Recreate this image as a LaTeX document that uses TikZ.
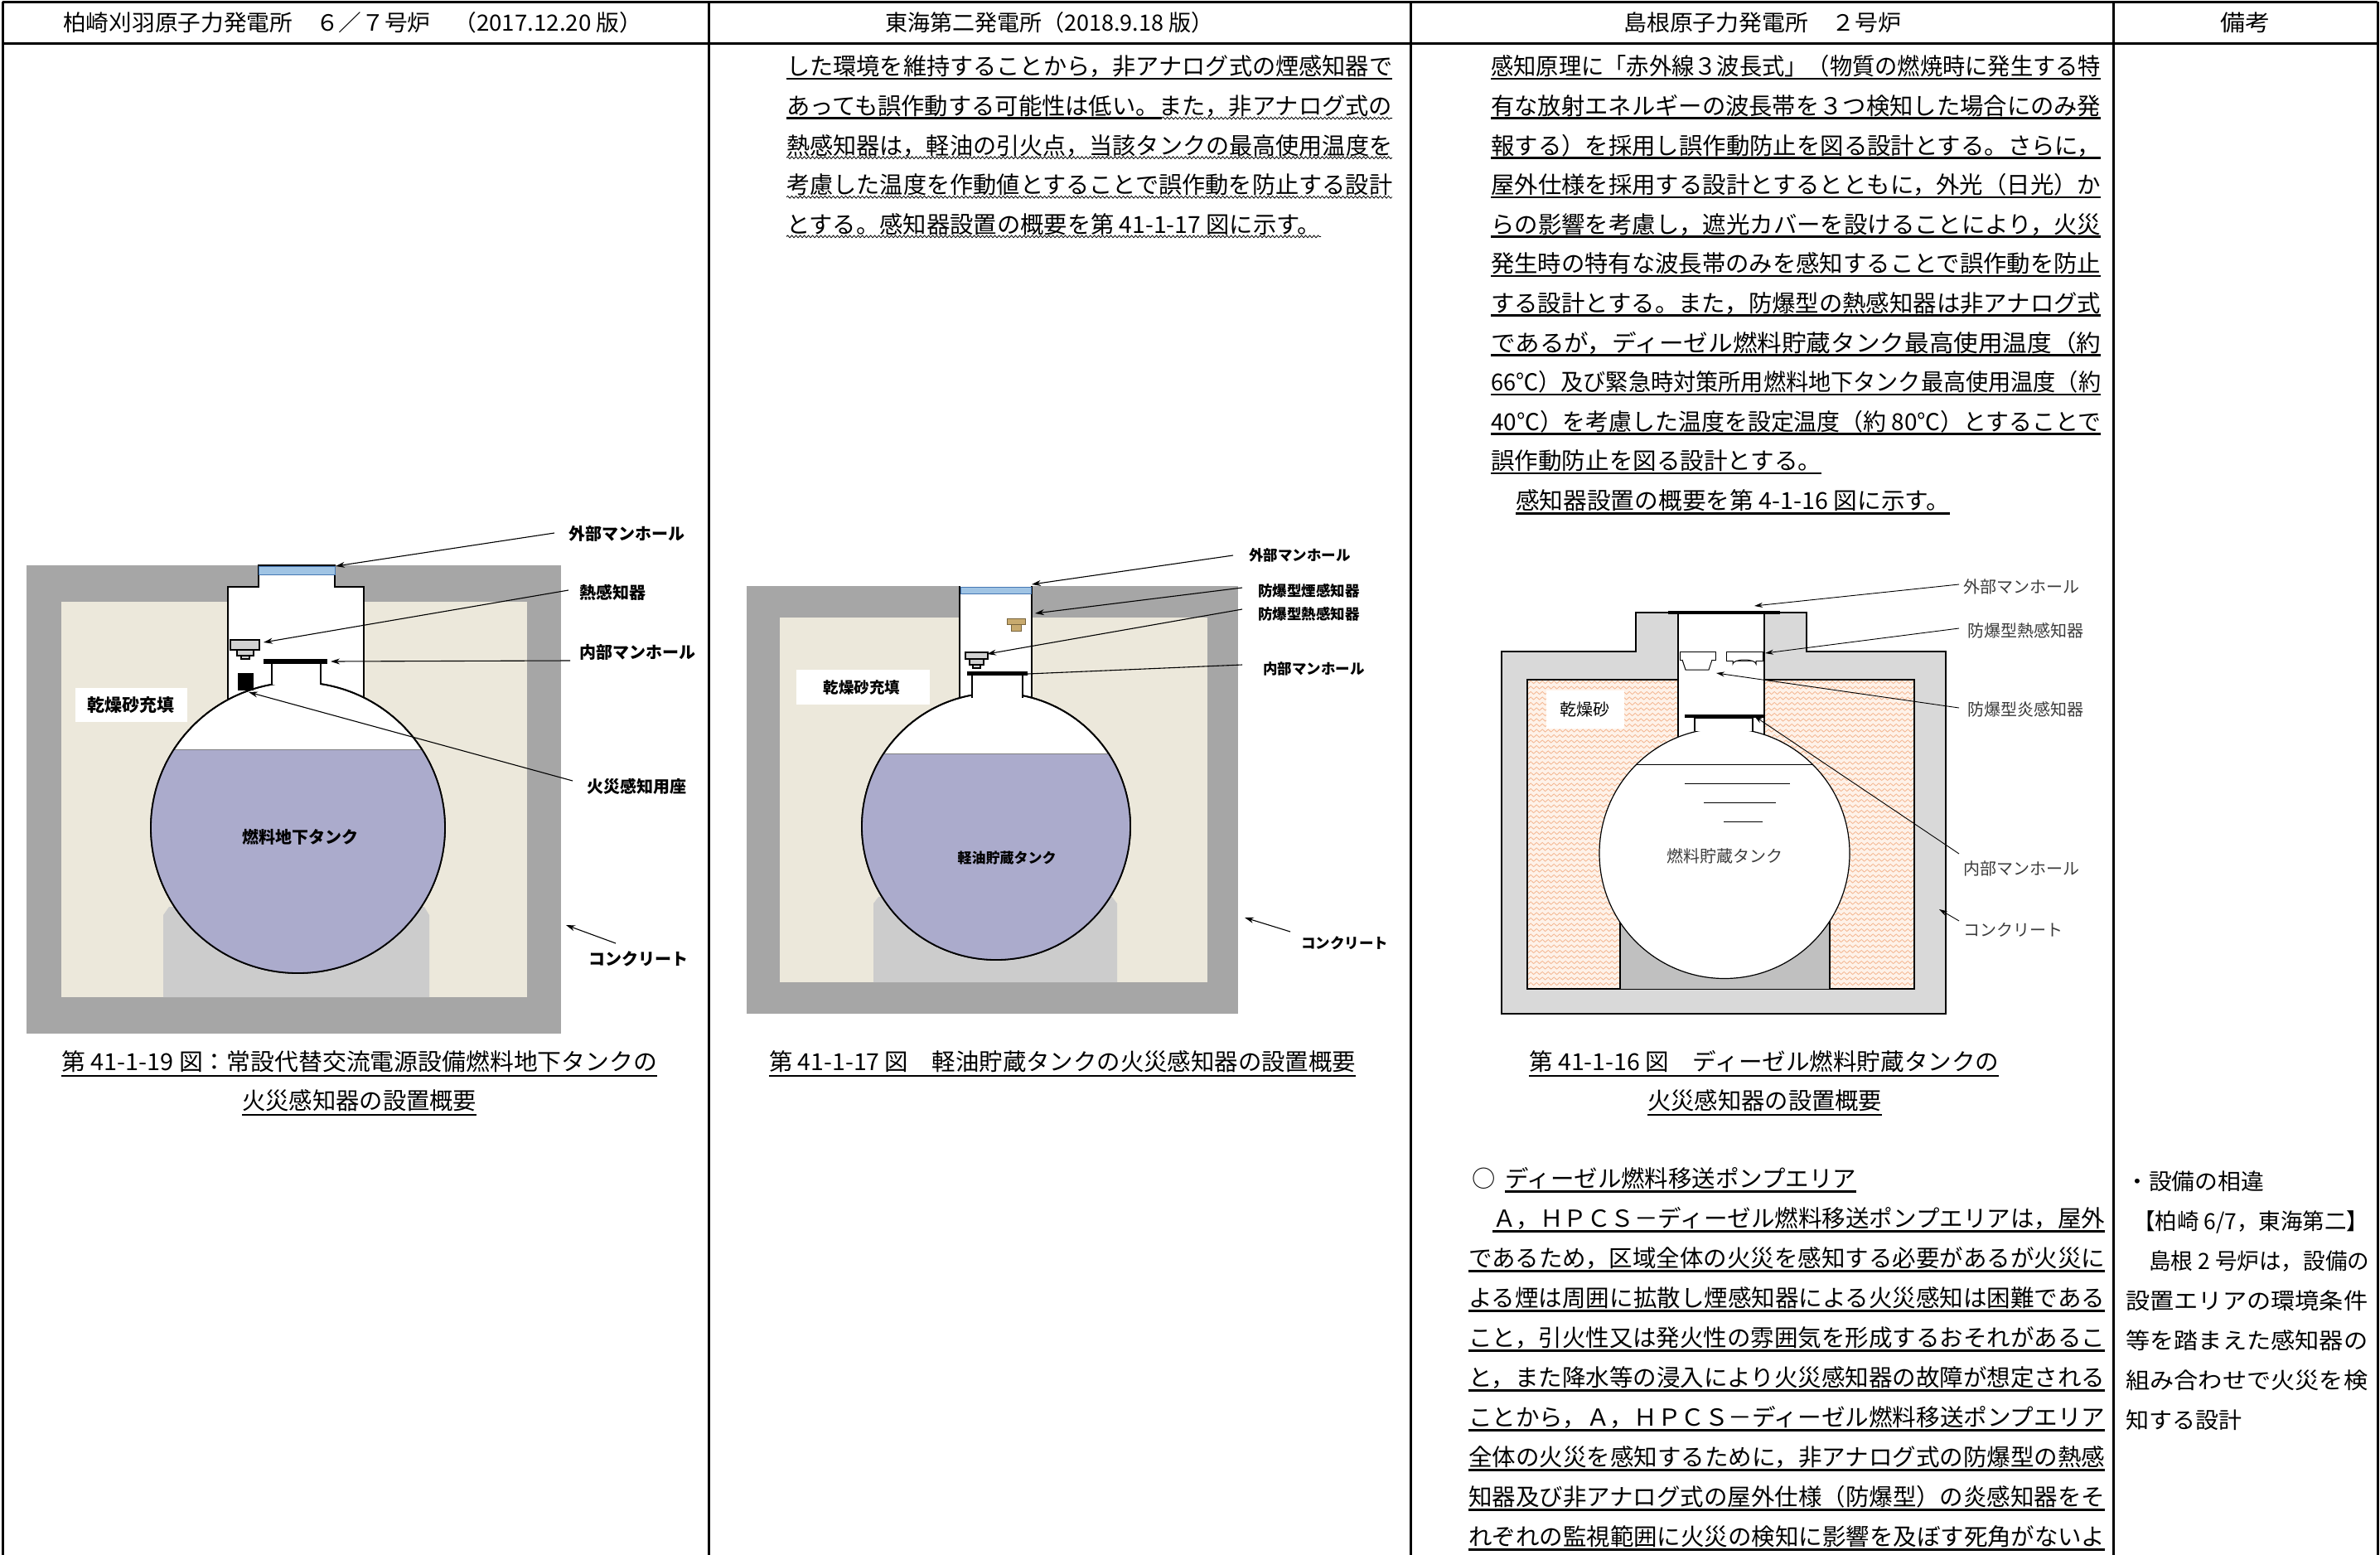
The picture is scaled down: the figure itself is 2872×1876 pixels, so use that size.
\documentclass[tikz,border=0pt]{standalone}
\usepackage{fontspec}
\usepackage{graphicx}
\setmainfont{Noto Sans CJK JP}
\usetikzlibrary{arrows.meta,decorations.pathmorphing}
\definecolor{concA}{RGB}{166,166,166}
\definecolor{sandA}{RGB}{236,232,219}
\definecolor{saddleA}{RGB}{204,204,204}
\definecolor{liquid}{RGB}{171,171,204}
\definecolor{mhblue}{RGB}{160,196,228}
\definecolor{mhedge}{RGB}{70,120,180}
\definecolor{concC}{RGB}{217,217,217}
\definecolor{sandC}{RGB}{254,242,233}
\definecolor{waveC}{RGB}{244,182,145}
\definecolor{saddleC}{RGB}{192,192,192}
\definecolor{lblC}{RGB}{60,60,60}
\definecolor{detTan}{RGB}{200,170,110}
\definecolor{detTanE}{RGB}{120,100,60}
\newcommand{\fitw}[2]{\resizebox{#1pt}{\height}{#2}}
\tikzset{
  tframe/.style={line width=3pt},
  txt/.style={anchor=base west, inner sep=0pt, font=\fontsize{28.3}{30}\selectfont},
  hdr/.style={anchor=base west, inner sep=0pt, font=\fontsize{27}{30}\selectfont},
  rmk/.style={anchor=base west, inner sep=0pt, font=\fontsize{27}{30}\selectfont},
  ul/.style={line width=2.6pt},
  wavy/.style={line width=0.8pt, decorate, decoration={snake, amplitude=1.4pt, segment length=5pt}},
  sandwave/.style={line width=0.8pt, draw=waveC, decorate, decoration={snake, amplitude=1.6pt, segment length=7pt}},
  lblA/.style={anchor=west, inner sep=0pt, font=\bfseries\fontsize{20}{22}\selectfont},
  lblB/.style={anchor=west, inner sep=0pt, font=\bfseries\fontsize{17.5}{20}\selectfont},
  lblC/.style={anchor=west, inner sep=0pt, text=lblC, font=\fontsize{20}{22}\selectfont},
  arr/.style={-{Stealth[length=11pt,width=7pt]}, line width=1.1pt},
  arrC/.style={-{Stealth[length=10pt,width=6pt]}, line width=0.9pt},
  outl/.style={line width=1.2pt},
}
\begin{document}
\begin{tikzpicture}[x=1pt,y=-1pt]
\useasboundingbox (0,0) rectangle (2872,1876);
\fill[white] (0,0) rectangle (2872,1876);

% ================= Diagram 1 =================
\fill[concA] (32,682) rectangle (677,1247);
\fill[sandA] (74,726) rectangle (636,1203);
\fill[saddleA] (197,1203) -- (197,1104) -- (204,1094) -- (512,1094) -- (518,1104) -- (518,1203) -- cycle;
\draw[outl,fill=white] (275,850) -- (275,708) -- (312,708) -- (312,682) -- (404,682) -- (404,708) -- (439,708) -- (439,850);
\fill[white] (276,710) rectangle (438,850);
\draw[line width=1.8pt,fill=white] (359.5,998.5) ellipse [x radius=177.5, y radius=175.5];
\begin{scope}
  \clip (359.5,998.5) ellipse [x radius=177.5, y radius=175.5];
  \fill[liquid] (150,904) rectangle (560,1200);
  \draw[gray,line width=0.8pt] (150,904) -- (560,904);
\end{scope}
\draw[line width=1.8pt] (359.5,998.5) ellipse [x radius=177.5, y radius=175.5];
\draw[mhedge,fill=mhblue,line width=1pt] (312,683) rectangle (404,693);
\draw[outl,fill=gray!35] (278,772) rectangle (313,784);
\draw[outl,fill=gray!35] (286,784) rectangle (306,791);
\draw[outl,fill=gray!35] (291,791) rectangle (301,795);
\draw[outl,fill=white] (328,826) -- (328,800) -- (387,800) -- (387,826);
\fill[black] (318,795) rectangle (395,801);
\fill[black] (287,812) rectangle (306,833);
\fill[white] (91,830) rectangle (226,871);
\node[font=\bfseries\fontsize{21}{22}\selectfont, inner sep=0pt] (d1sand) at (158,851) {乾燥砂充填};
\node[font=\bfseries\fontsize{20}{22}\selectfont, inner sep=0pt] (d1tank) at (362,1010) {燃料地下タンク};
\node[lblA] (d1l1) at (686,644) {外部マンホール};
\node[lblA] (d1l2) at (699,715) {熱感知器};
\node[lblA] (d1l3) at (699,787) {内部マンホール};
\node[lblA] (d1l4) at (708,949) {火災感知用座};
\node[lblA] (d1l5) at (710,1157) {コンクリート};
\coordinate (a1s) at (669,643); \coordinate (a1e) at (405,683);
\coordinate (a2s) at (686,712); \coordinate (a2e) at (318,775);
\coordinate (a3s) at (688,797); \coordinate (a3e) at (399,798);
\coordinate (a4s) at (691,942); \coordinate (a4e) at (300,835);
\coordinate (a5s) at (743,1138); \coordinate (a5e) at (683,1116);
\draw[arr] (a1s) -- (a1e);
\draw[arr] (a2s) -- (a2e);
\draw[arr] (a3s) -- (a3e);
\draw[arr] (a4s) -- (a4e);
\draw[arr] (a5s) -- (a5e);

% ================= Diagram 2 =================
\fill[concA] (901,707) rectangle (1494,1223);
\fill[sandA] (941,745) rectangle (1457,1185);
\fill[saddleA] (1054,1185) -- (1054,1090) -- (1060,1082) -- (1342,1082) -- (1348,1090) -- (1348,1185) -- cycle;
\fill[white] (1158,707) rectangle (1245,845);
\draw[outl] (1158,707) -- (1158,845);
\draw[outl] (1245,707) -- (1245,845);
\draw[line width=1.8pt,fill=white] (1202,997) ellipse [x radius=162, y radius=161];
\begin{scope}
  \clip (1202,997) ellipse [x radius=162, y radius=161];
  \fill[liquid] (1030,909) rectangle (1370,1165);
  \draw[gray,line width=0.8pt] (1030,909) -- (1370,909);
\end{scope}
\draw[line width=1.8pt] (1202,997) ellipse [x radius=162, y radius=161];
\draw[mhedge,fill=mhblue,line width=1pt] (1159,708) rectangle (1244,716);
\draw[detTanE,fill=detTan,line width=1pt] (1215,746) rectangle (1237,753);
\draw[detTanE,fill=detTan,line width=1pt] (1220,753) rectangle (1232,761);
\draw[outl,fill=gray!35] (1165,787) rectangle (1192,795);
\draw[outl,fill=gray!35] (1170,795) rectangle (1187,802);
\draw[outl,fill=gray!35] (1174,802) rectangle (1183,806);
\draw[outl,fill=white] (1173,842) -- (1173,814) -- (1234,814) -- (1234,842);
\fill[black] (1167,810) rectangle (1240,815);
\fill[white] (961,808) rectangle (1122,850);
\node[font=\bfseries\fontsize{18.5}{20}\selectfont, inner sep=0pt] (d2sand) at (1040,829) {乾燥砂充填};
\node[font=\bfseries\fontsize{17}{20}\selectfont, inner sep=0pt] (d2tank) at (1215,1035) {軽油貯蔵タンク};
\node[lblB] (d2l1) at (1507,670) {外部マンホール};
\node[lblB] (d2l2) at (1518,713) {防爆型煙感知器};
\node[lblB] (d2l3) at (1518,741) {防爆型熱感知器};
\node[lblB] (d2l4) at (1524,807) {内部マンホール};
\node[lblB] (d2l5) at (1570,1138) {コンクリート};
\coordinate (b1s) at (1488,670); \coordinate (b1e) at (1245,705);
\coordinate (b2s) at (1499,709); \coordinate (b2e) at (1249,740);
\coordinate (b3s) at (1499,735); \coordinate (b3e) at (1191,789);
\coordinate (b4s) at (1499,802); \coordinate (b4e) at (1240,813);
\coordinate (b5s) at (1557,1124); \coordinate (b5e) at (1502,1107);
\draw[arr] (b1s) -- (b1e);
\draw[arr] (b2s) -- (b2e);
\draw[arr] (b3s) -- (b3e);
\draw[line width=1.1pt] (b4s) -- (b4e);
\draw[arr] (b5s) -- (b5e);

% ================= Diagram 3 =================
\draw[outl,fill=concC] (1812,1223) -- (1812,786) -- (1974,786) -- (1974,739) -- (2180,739) -- (2180,786) -- (2348,786) -- (2348,1223) -- cycle;
\fill[sandC] (1843,820) rectangle (2310,1193);
\begin{scope}
  \clip (1843,820) rectangle (2310,1193);
  \foreach \yy in {823,829.5,...,1195} \draw[sandwave] (1838,\yy) -- (2315,\yy);
\end{scope}
\draw[outl] (1843,820) rectangle (2310,1193);
\draw[outl,fill=saddleC] (1955,1193) -- (1955,1100) -- (2208,1100) -- (2208,1193);
\fill[white] (2025,739) rectangle (2129,895);
\draw[outl] (2025,739) -- (2025,892);
\draw[outl] (2129,739) -- (2129,892);
\draw[outl,fill=white] (2081,1029.5) circle [radius=151];
\draw[line width=1pt] (1975,922) -- (2187,922);
\draw[line width=1pt] (2033,945) -- (2160,945);
\draw[line width=1pt] (2056,968) -- (2143,968);
\draw[line width=1pt] (2080,991) -- (2127,991);
\draw[line width=4pt] (2013,739) -- (2148,739);
\draw[line width=1pt,fill=white] (2027,786) rectangle (2070,796);
\draw[line width=1pt,fill=white] (2030,796) -- (2034,808) -- (2062,808) -- (2066,796);
\draw[line width=1pt,fill=white] (2083,786) rectangle (2127,797);
\draw[line width=1pt,fill=white] (2091,797) -- (2091,801) arc[start angle=180, end angle=360, x radius=14, y radius=5] -- (2119,797);
\draw[outl,fill=white] (2045,882) -- (2045,866) -- (2115,866) -- (2115,882);
\draw[line width=4pt] (2033,864) -- (2128,864);
\fill[white] (1866,833) rectangle (1960,879);
\node[font=\fontsize{20}{22}\selectfont, inner sep=0pt] (d3sand) at (1912,856) {乾燥砂};
\node[font=\fontsize{20}{22}\selectfont, text=lblC, inner sep=0pt] (d3tank) at (2081,1033) {燃料貯蔵タンク};
\node[lblC] (d3l1) at (2369,708) {外部マンホール};
\node[lblC] (d3l2) at (2374,761) {防爆型熱感知器};
\node[lblC] (d3l3) at (2374,856) {防爆型炎感知器};
\node[lblC] (d3l4) at (2369,1048) {内部マンホール};
\node[lblC] (d3l5) at (2369,1122) {コンクリート};
\coordinate (c1s) at (2364,705); \coordinate (c1e) at (2117,731);
\coordinate (c2s) at (2364,758); \coordinate (c2e) at (2130,788);
\coordinate (c3s) at (2364,854); \coordinate (c3e) at (2071,812);
\coordinate (c4s) at (2364,1030); \coordinate (c4e) at (2117,864);
\coordinate (c5s) at (2364,1111); \coordinate (c5e) at (2340,1097);
\draw[arrC] (c1s) -- (c1e);
\draw[arrC] (c2s) -- (c2e);
\draw[arrC] (c3s) -- (c3e);
\draw[arrC] (c4s) -- (c4e);
\draw[arrC] (c5s) -- (c5e);

% ================= Table frame =================
\draw[tframe] (3,3) -- (2869,3);
\draw[tframe] (3,53) -- (2869,53);
\draw[tframe] (3,2) -- (3,1876);
\draw[tframe] (855,2) -- (855,1876);
\draw[tframe] (1702,2) -- (1702,1876);
\draw[tframe] (2550,2) -- (2550,1876);
\draw[tframe] (2869,2) -- (2869,1876);

% headers
\node[hdr] (h1) at (76,37.3) {\fitw{699}{柏崎刈羽原子力発電所　６／７号炉　（2017.12.20 版）}};
\node[hdr] (h2) at (1068,37.3) {\fitw{396}{東海第二発電所（2018.9.18 版）}};
\node[hdr] (h3) at (1959,37.3) {\fitw{335}{島根原子力発電所　２号炉}};
\node[hdr] (h4) at (2679,37.3) {\fitw{60}{備考}};

% ================= Column 2 text =================
\node[txt] (t2a) at (949,90.8) {\fitw{731}{した環境を維持することから，非アナログ式の煙感知器で}};
\node[txt] (t2b) at (949,138.4) {\fitw{731}{あっても誤作動する可能性は低い。また，非アナログ式の}};
\node[txt] (t2c) at (949,186) {\fitw{731}{熱感知器は，軽油の引火点，当該タンクの最高使用温度を}};
\node[txt] (t2d) at (949,233.6) {\fitw{731}{考慮した温度を作動値とすることで誤作動を防止する設計}};
\node[txt] (t2e) at (949,281.2) {\fitw{645}{とする。感知器設置の概要を第 41-1-17 図に示す。}};
\draw[ul] (949,95) -- (1680,95);
\draw[ul] (949,142.6) -- (1402,142.6);
\draw[wavy] (1402,142.6) -- (1680,142.6);
\draw[wavy] (949,190.2) -- (1680,190.2);
\draw[wavy] (949,237.8) -- (1680,237.8);
\draw[wavy] (949,285.4) -- (1594,285.4);

% ================= Column 3 top text =================
\node[txt] (t3a) at (1799,90.8) {\fitw{736}{感知原理に「赤外線３波長式」（物質の燃焼時に発生する特}};
\node[txt] (t3b) at (1799,138.4) {\fitw{736}{有な放射エネルギーの波長帯を３つ検知した場合にのみ発}};
\node[txt] (t3c) at (1799,186) {\fitw{736}{報する）を採用し誤作動防止を図る設計とする。さらに，}};
\node[txt] (t3d) at (1799,233.6) {\fitw{736}{屋外仕様を採用する設計とするとともに，外光（日光）か}};
\node[txt] (t3e) at (1799,281.2) {\fitw{736}{らの影響を考慮し，遮光カバーを設けることにより，火災}};
\node[txt] (t3f) at (1799,328.8) {\fitw{736}{発生時の特有な波長帯のみを感知することで誤作動を防止}};
\node[txt] (t3g) at (1799,376.4) {\fitw{736}{する設計とする。また，防爆型の熱感知器は非アナログ式}};
\node[txt] (t3h) at (1799,424) {\fitw{736}{であるが，ディーゼル燃料貯蔵タンク最高使用温度（約}};
\node[txt] (t3i) at (1799,471.6) {\fitw{736}{66℃）及び緊急時対策所用燃料地下タンク最高使用温度（約}};
\node[txt] (t3j) at (1799,519.2) {\fitw{736}{40℃）を考慮した温度を設定温度（約 80℃）とすることで}};
\node[txt] (t3k) at (1799,566.8) {\fitw{399}{誤作動防止を図る設計とする。}};
\node[txt] (t3l) at (1829,614.4) {\fitw{524}{感知器設置の概要を第 4-1-16 図に示す。}};
\foreach \u in {95,142.6,190.2,237.8,285.4,333,380.6,428.2,475.8,523.4}
  \draw[ul] (1799,\u) -- (2535,\u);
\draw[ul] (1799,571) -- (2198,571);
\draw[ul] (1829,619.5) -- (2353,619.5);

% ================= Captions =================
\node[txt] (cap1a) at (74,1291.6) {\fitw{719}{第 41-1-19 図：常設代替交流電源設備燃料地下タンクの}};
\node[txt] (cap1b) at (292,1338.6) {\fitw{283}{火災感知器の設置概要}};
\node[txt] (cap2) at (928,1291.6) {\fitw{708}{第 41-1-17 図　軽油貯蔵タンクの火災感知器の設置概要}};
\node[txt] (cap3a) at (1845,1291.6) {\fitw{567}{第 41-1-16 図　ディーゼル燃料貯蔵タンクの}};
\node[txt] (cap3b) at (1988,1338.6) {\fitw{283}{火災感知器の設置概要}};
\draw[ul] (74,1298) -- (793,1298);
\draw[ul] (292,1345) -- (575,1345);
\draw[ul] (928,1298) -- (1636,1298);
\draw[ul] (1845,1298) -- (2412,1298);
\draw[ul] (1988,1345) -- (2271,1345);

% ================= Column 3 lower text =================
\node[txt] (t4o) at (1776,1432.8) {○};
\node[txt] (t4a) at (1816,1432.8) {\fitw{424}{ディーゼル燃料移送ポンプエリア}};
\node[txt] (t4b) at (1801,1480.8) {\fitw{739}{Ａ，ＨＰＣＳ－ディーゼル燃料移送ポンプエリアは，屋外}};
\node[txt] (t4c) at (1772,1528.8) {\fitw{768}{であるため，区域全体の火災を感知する必要があるが火災に}};
\node[txt] (t4d) at (1772,1576.8) {\fitw{768}{よる煙は周囲に拡散し煙感知器による火災感知は困難である}};
\node[txt] (t4e) at (1772,1624.8) {\fitw{768}{こと，引火性又は発火性の雰囲気を形成するおそれがあるこ}};
\node[txt] (t4f) at (1772,1672.8) {\fitw{768}{と，また降水等の浸入により火災感知器の故障が想定される}};
\node[txt] (t4g) at (1772,1720.8) {\fitw{768}{ことから，Ａ，ＨＰＣＳ－ディーゼル燃料移送ポンプエリア}};
\node[txt] (t4h) at (1772,1768.8) {\fitw{768}{全体の火災を感知するために，非アナログ式の防爆型の熱感}};
\node[txt] (t4i) at (1772,1816.8) {\fitw{768}{知器及び非アナログ式の屋外仕様（防爆型）の炎感知器をそ}};
\node[txt] (t4j) at (1772,1864.8) {\fitw{768}{れぞれの監視範囲に火災の検知に影響を及ぼす死角がないよ}};
\draw[ul] (1816,1437.5) -- (2240,1437.5);
\draw[ul] (1801,1485.5) -- (2540,1485.5);
\foreach \u in {1533.5,1581.5,1629.5,1677.5,1725.5,1773.5,1821.5,1869.5}
  \draw[ul] (1772,\u) -- (2540,\u);

% ================= Remarks =================
\node[rmk] (r1) at (2565,1435.3) {\fitw{167}{・設備の相違}};
\node[rmk] (r2) at (2574,1483.3) {\fitw{284}{【柏崎 6/7，東海第二】}};
\node[rmk] (r3) at (2593,1531.3) {\fitw{266}{島根 2 号炉は，設備の}};
\node[rmk] (r4) at (2565,1579.3) {\fitw{292}{設置エリアの環境条件}};
\node[rmk] (r5) at (2565,1627.3) {\fitw{292}{等を踏まえた感知器の}};
\node[rmk] (r6) at (2565,1675.3) {\fitw{292}{組み合わせで火災を検}};
\node[rmk] (r7) at (2565,1723.3) {\fitw{140}{知する設計}};
\end{tikzpicture}
\end{document}
